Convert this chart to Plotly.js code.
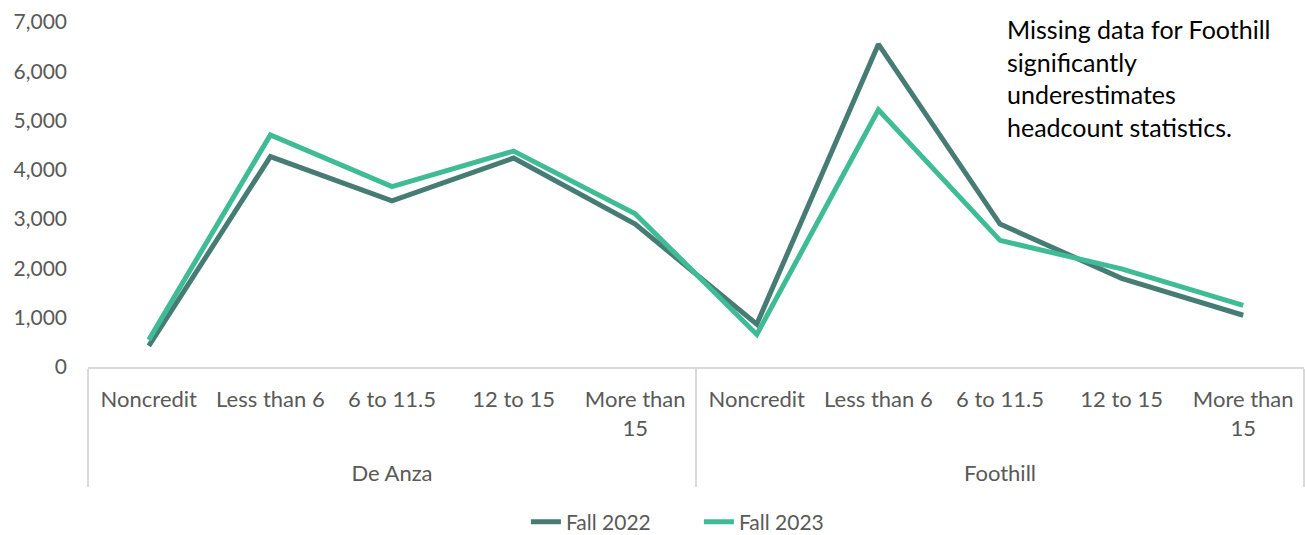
<!DOCTYPE html>
<html>
<head>
<meta charset="utf-8">
<script src="https://cdn.plot.ly/plotly-3.0.1.min.js"></script>
<style>html,body{margin:0;padding:0;background:#fff;}#chart{width:1305px;height:535px;}</style>
</head>
<body>
<div id="chart"></div>
<script>
const colleges = ["De Anza","De Anza","De Anza","De Anza","De Anza","Foothill","Foothill","Foothill","Foothill","Foothill"];
const unitLoads = ["Noncredit","Less than 6","6 to 11.5","12 to 15","More than<br>15","Noncredit","Less than 6","6 to 11.5","12 to 15","More than<br>15"];
const fall2022 = [430, 4270, 3370, 4240, 2900, 870, 6550, 2900, 1800, 1050];
const fall2023 = [550, 4710, 3660, 4380, 3110, 660, 5220, 2570, 1990, 1250];
const yTicks = [0,1000,2000,3000,4000,5000,6000,7000];
const yTickText = ["0","1,000","2,000","3,000","4,000","5,000","6,000","7,000"];
const noteText = "Missing data for Foothill<br>significantly<br>underestimates<br>headcount statistics.";

// group labels pushed one line lower so they sit beneath the two-line category labels
const groupLabels = colleges.map(c => " <br>" + c);

const FONT = "Lato, 'Open Sans', sans-serif";
const traces = [
  {x:[groupLabels, unitLoads], y:fall2022, name:"Fall 2022", type:"scatter", mode:"lines",
   line:{color:"#477C74", width:5}},
  {x:[groupLabels, unitLoads], y:fall2023, name:"Fall 2023", type:"scatter", mode:"lines",
   line:{color:"#3FBC95", width:5}}
];
const layout = {
  width:1305, height:535,
  margin:{l:88, r:1, t:22, b:168},
  paper_bgcolor:"#fff", plot_bgcolor:"#fff",
  font:{family:FONT, size:21, color:"#595959"},
  showlegend:true,
  legend:{orientation:"h", xref:"container", x:0.403, xanchor:"left", yref:"container", y:0.024, yanchor:"middle",
    entrywidth:128, entrywidthmode:"pixels", font:{size:21, color:"#595959"}},
  xaxis:{type:"multicategory", range:[-0.5, 9.5], automargin:false, showgrid:false, zeroline:false, showline:true,
    linecolor:"#D9D9D9", linewidth:1.5, ticks:"", ticklabelstandoff:12,
    showdividers:true, dividercolor:"#D9D9D9", dividerwidth:1.2, tickfont:{size:22, color:"#595959"}},
  yaxis:{range:[0,7000], tickvals:yTicks, ticktext:yTickText, showgrid:false, zeroline:false, showline:false,
    automargin:false, ticks:"", ticklabelstandoff:20, tickfont:{size:21, color:"#595959"}},
  annotations:[{xref:"paper", yref:"paper", x:0.754, y:1.03, xanchor:"left", yanchor:"top", align:"left",
    text:noteText, showarrow:false, font:{family:FONT, size:25, color:"#000"}}]
};
Plotly.newPlot("chart", traces, layout, {displayModeBar:false, staticPlot:true});
</script>
</body>
</html>
